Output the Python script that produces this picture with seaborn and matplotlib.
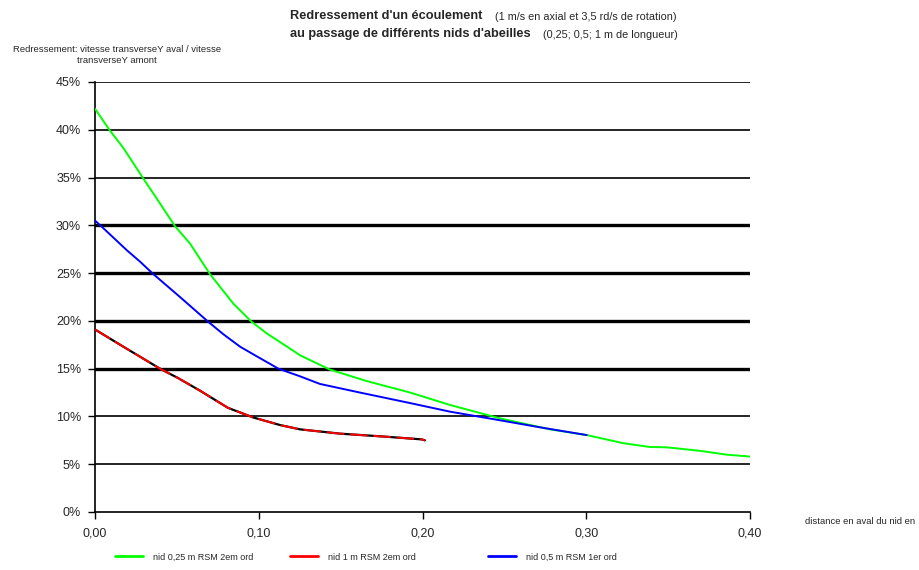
import matplotlib
matplotlib.use("Agg")
import matplotlib.pyplot as plt
import numpy as np
import pandas as pd
import seaborn as sns
from matplotlib.lines import Line2D
from matplotlib.ticker import FuncFormatter, PercentFormatter

# values (distance in m, redressement in %)
dist_025 = [0.0, 0.0092, 0.0173, 0.0295, 0.0377, 0.0489, 0.058, 0.0702, 0.0845, 0.0957,
            0.1048, 0.1191, 0.1252, 0.1435, 0.166, 0.1924, 0.2168, 0.2473, 0.2779, 0.3003,
            0.3226, 0.339, 0.3491, 0.3695, 0.3858, 0.40]
red_025 = [42.2, 39.9, 38.1, 34.9, 32.8, 29.9, 28.1, 24.9, 21.8, 19.9,
           18.7, 17.1, 16.4, 14.9, 13.7, 12.5, 11.2, 9.8, 8.65, 8.05,
           7.2, 6.8, 6.77, 6.4, 6.0, 5.8]

dist_1 = [0.0, 0.0173, 0.0397, 0.0509, 0.0641, 0.0812, 0.0965, 0.113, 0.1252, 0.1496,
          0.176, 0.1995, 0.2015]
red_1 = [19.1, 17.3, 15.0, 14.0, 12.7, 10.9, 9.9, 9.1, 8.65, 8.2,
         7.9, 7.6, 7.5]

dist_05 = [0.0, 0.0051, 0.0194, 0.0275, 0.0356, 0.0519, 0.0692, 0.0784, 0.0886, 0.0987,
           0.112, 0.1252, 0.1374, 0.1618, 0.1924, 0.2168, 0.2473, 0.2718, 0.3003]
red_05 = [30.5, 29.7, 27.4, 26.2, 24.9, 22.5, 19.9, 18.6, 17.3, 16.3,
          15.0, 14.2, 13.4, 12.5, 11.4, 10.5, 9.6, 8.86, 8.05]

series_names = ["nid 0,25 m RSM 2em ord", "nid 1 m RSM 2em ord", "nid 0,5 m RSM 1er ord"]
series_colors = ["#00ff00", "#ff0000", "#0000ff"]
y_ticks = [0, 5, 10, 15, 20, 25, 30, 35, 40, 45]
x_ticks = [0.0, 0.1, 0.2, 0.3, 0.4]
thin_grid = [5, 10, 35, 40, 45]
thick_grid = [15, 20, 25, 30]

df = pd.concat([
    pd.DataFrame({"distance": dist_025, "redressement": red_025, "serie": series_names[0]}),
    pd.DataFrame({"distance": dist_1, "redressement": red_1, "serie": series_names[1]}),
    pd.DataFrame({"distance": dist_05, "redressement": red_05, "serie": series_names[2]}),
])

sns.set_style("white")
plt.rcParams["font.family"] = ["Liberation Sans", "DejaVu Sans"]

fig = plt.figure(figsize=(9.2, 5.7), dpi=100)
ax = fig.add_axes([95 / 920, 58 / 570, 655 / 920, 430 / 570])

for y in thin_grid:
    ax.axhline(y, color="black", lw=1.2, zorder=1)
for y in thick_grid:
    ax.axhline(y, color="black", lw=2.4, zorder=1)

# black trace under the red one (shows through in patches)
ax.plot(dist_1, red_1, color="black", lw=1.6, zorder=2)

sns.lineplot(data=df, x="distance", y="redressement", hue="serie",
             palette=dict(zip(series_names, series_colors)), sort=False,
             estimator=None, legend=False, lw=1.4, ax=ax, zorder=3)
red_line = ax.lines[-2]
red_line.set_dashes([9, 3])

ax.set_xlim(0, 0.4)
ax.set_ylim(0, 45)
ax.set_xticks(x_ticks)
ax.set_yticks(y_ticks)
ax.xaxis.set_major_formatter(FuncFormatter(lambda v, p: f"{v:.2f}".replace(".", ",")))
ax.yaxis.set_major_formatter(PercentFormatter(decimals=0))
ax.tick_params(axis="both", direction="out", length=5, width=1, labelsize=9, color="black",
               bottom=True, left=True)
ax.tick_params(axis="x", pad=6)
ax.tick_params(axis="y", pad=5)
for side in ["top", "right"]:
    ax.spines[side].set_visible(False)
for side in ["left", "bottom"]:
    ax.spines[side].set_color("black")
    ax.spines[side].set_linewidth(1.2)
ax.set_xlabel("")
ax.set_ylabel("")

fig.text(290 / 920, 1 - 16 / 570, "Redressement d'un écoulement", fontsize=9.2,
         fontweight="bold", va="center", ha="left")
fig.text(495 / 920, 1 - 17 / 570, "(1 m/s en axial et 3,5 rd/s de rotation)", fontsize=7.8,
         va="center", ha="left")
fig.text(290 / 920, 1 - 34 / 570, "au passage de différents nids d'abeilles", fontsize=9.2,
         fontweight="bold", va="center", ha="left")
fig.text(543 / 920, 1 - 35 / 570, "(0,25; 0,5; 1 m de longueur)", fontsize=7.8,
         va="center", ha="left")

fig.text(117 / 920, 1 - 55 / 570, "Redressement: vitesse transverseY aval / vitesse\ntransverseY amont",
         fontsize=6.8, ha="center", va="center", linespacing=1.3)
fig.text(805 / 920, 1 - 522 / 570, "distance en aval du nid en", fontsize=6.8,
         ha="left", va="center")

legend_x = [115, 290, 488]
for name, color, lx in zip(series_names, series_colors, legend_x):
    fig.legend(handles=[Line2D([0], [0], color=color, lw=2)], labels=[name],
               loc="center left", bbox_to_anchor=(lx / 920, 1 - 557 / 570),
               frameon=False, fontsize=6.5, handlelength=3.1, handletextpad=1.1,
               borderaxespad=0, borderpad=0)

fig.savefig("out.png", dpi=100)
